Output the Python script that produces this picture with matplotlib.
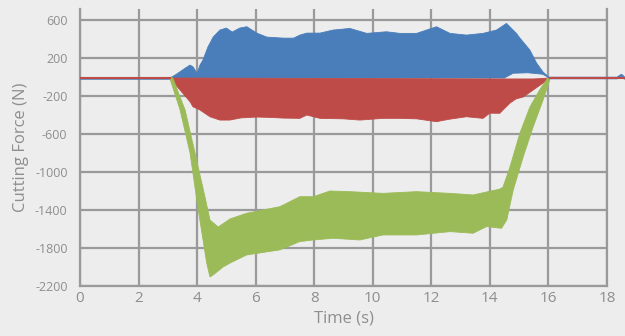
import matplotlib
matplotlib.use('Agg')
import matplotlib.pyplot as plt

# envelope values (time in s, force in N)
blue_up_t = [3.07, 3.25, 3.42, 3.6, 3.76, 3.86, 4.0, 4.1, 4.2, 4.37, 4.55, 4.78, 5.0, 5.2, 5.46, 5.7,
             6.04, 6.38, 6.94, 7.3, 7.51, 7.75, 8.2, 8.65, 9.22, 9.8, 10.47, 10.93, 11.5, 12.18, 12.64,
             13.2, 13.77, 14.23, 14.57, 14.91, 15.03, 15.37, 15.6, 15.82, 16.05]
blue_up_v = [-10, 21, 56, 95, 126, 108, 40, 126, 179, 316, 421, 495, 516, 474, 516, 530,
             463, 421, 410, 410, 442, 463, 463, 495, 512, 460, 477, 460, 460, 530, 460,
             442, 460, 495, 565, 460, 410, 284, 147, 53, -10]
blue_lo_t = [3.07, 14.5, 14.8, 15.3, 15.8, 16.05]
blue_lo_v = [-10, -10, 40, 45, 30, -10]

red_up_t = [3.07, 14.6, 15.5, 16.05]
red_up_v = [-10, -20, -20, -10]
red_lo_t = [3.07, 3.42, 3.76, 3.86, 4.1, 4.44, 4.78, 5.12, 5.5, 6.04, 6.5, 6.94, 7.51, 7.75, 8.2, 9.0,
            9.56, 10.35, 10.93, 11.5, 12.18, 12.6, 13.2, 13.77, 14.0, 14.34, 14.45, 14.69, 14.9,
            15.14, 15.48, 15.82, 16.05]
red_lo_v = [-14, -137, -260, -313, -347, -418, -453, -453, -430, -421, -425, -432, -435, -400, -435, -440,
            -453, -435, -435, -440, -470, -445, -418, -435, -380, -382, -347, -274, -230,
            -210, -137, -63, -20]

green_up_t = [3.07, 3.17, 3.59, 3.93, 4.27, 4.44, 4.72, 5.12, 5.69, 6.83, 7.51, 7.97, 8.54, 9.22,
              10.35, 11.5, 12.64, 13.43, 14.34, 14.45, 14.69, 15.03, 15.37, 15.7, 15.98]
green_up_v = [0, -10, -347, -800, -1263, -1505, -1580, -1495, -1435, -1365, -1260, -1260, -1200, -1207,
              -1225, -1207, -1225, -1242, -1180, -1160, -947, -590, -316, -137, -10]
green_lo_t = [3.07, 3.42, 3.76, 4.04, 4.33, 4.44, 4.55, 4.89, 5.12, 5.69, 6.83, 7.51, 7.97, 8.65,
              9.56, 10.35, 11.5, 12.64, 13.43, 13.89, 14.4, 14.58, 14.8, 15.14, 15.48, 15.82, 16.05]
green_lo_v = [-14, -347, -800, -1400, -1960, -2105, -2084, -2000, -1960, -1874, -1820, -1733, -1716, -1698,
              -1716, -1663, -1663, -1628, -1645, -1575, -1593, -1505, -1190, -842, -526, -242, -30]

# idle signal before / after the cut
idle_before_t = [0, 3.07]
idle_after_t = [16.05, 18.6]
idle_v = [-10, -10]
blue_tail_t = [16.05, 18.35, 18.5, 18.6]
blue_tail_v = [-10, -10, 20, -10]

xticks = [0, 2, 4, 6, 8, 10, 12, 14, 16, 18]
yticks = [600, 200, -200, -600, -1000, -1400, -1800, -2200]

BLUE = '#4a7ebb'
RED = '#be4b48'
GREEN = '#9bbb59'
GRID = '#9a9a9a'
TXT = '#8e8e8e'
BG = '#ededed'

plt.rcParams['font.family'] = ['Open Sans', 'DejaVu Sans']
plt.rcParams['axes.unicode_minus'] = False

fig = plt.figure(figsize=(6.25, 3.36), dpi=100, facecolor=BG)
ax = fig.add_axes([0.128, 0.149, 0.843, 0.824], facecolor=BG)


def band(t_up, v_up, t_lo, v_lo, color):
    xs = list(t_up) + list(reversed(t_lo))
    ys = list(v_up) + list(reversed(v_lo))
    ax.fill(xs, ys, color=color, lw=0.6, ec=color, zorder=3)


ax.plot(idle_before_t, idle_v, color=BLUE, lw=1.8, zorder=3)
ax.plot(blue_tail_t, blue_tail_v, color=BLUE, lw=1.8, zorder=3, clip_on=False)
band(blue_up_t, blue_up_v, blue_lo_t, blue_lo_v, BLUE)
ax.plot(idle_before_t, idle_v, color=RED, lw=1.5, zorder=4)
ax.plot(idle_after_t, idle_v, color=RED, lw=1.5, zorder=4, clip_on=False)
band(red_up_t, red_up_v, red_lo_t, red_lo_v, RED)
band(green_up_t, green_up_v, green_lo_t, green_lo_v, GREEN)

ax.set_xlim(0, 18)
ax.set_ylim(-2200, 716)
ax.set_xticks(xticks)
ax.set_yticks(yticks)
ax.grid(True, color=GRID, lw=1.6, zorder=1)
ax.set_axisbelow(True)
for side in ['left', 'bottom', 'right']:
    ax.spines[side].set_color(GRID)
    ax.spines[side].set_linewidth(1.6)
ax.spines['top'].set_visible(False)

ax.tick_params(axis='both', length=0, colors=TXT)
ax.tick_params(axis='y', labelsize=9, pad=9)
ax.tick_params(axis='x', labelsize=11, pad=4)
ax.set_xlabel('Time (s)', color=TXT, fontsize=12, labelpad=3)
ax.set_ylabel('Cutting Force (N)', color=TXT, fontsize=12, labelpad=4)

fig.savefig('out.png', dpi=100, facecolor=BG)
